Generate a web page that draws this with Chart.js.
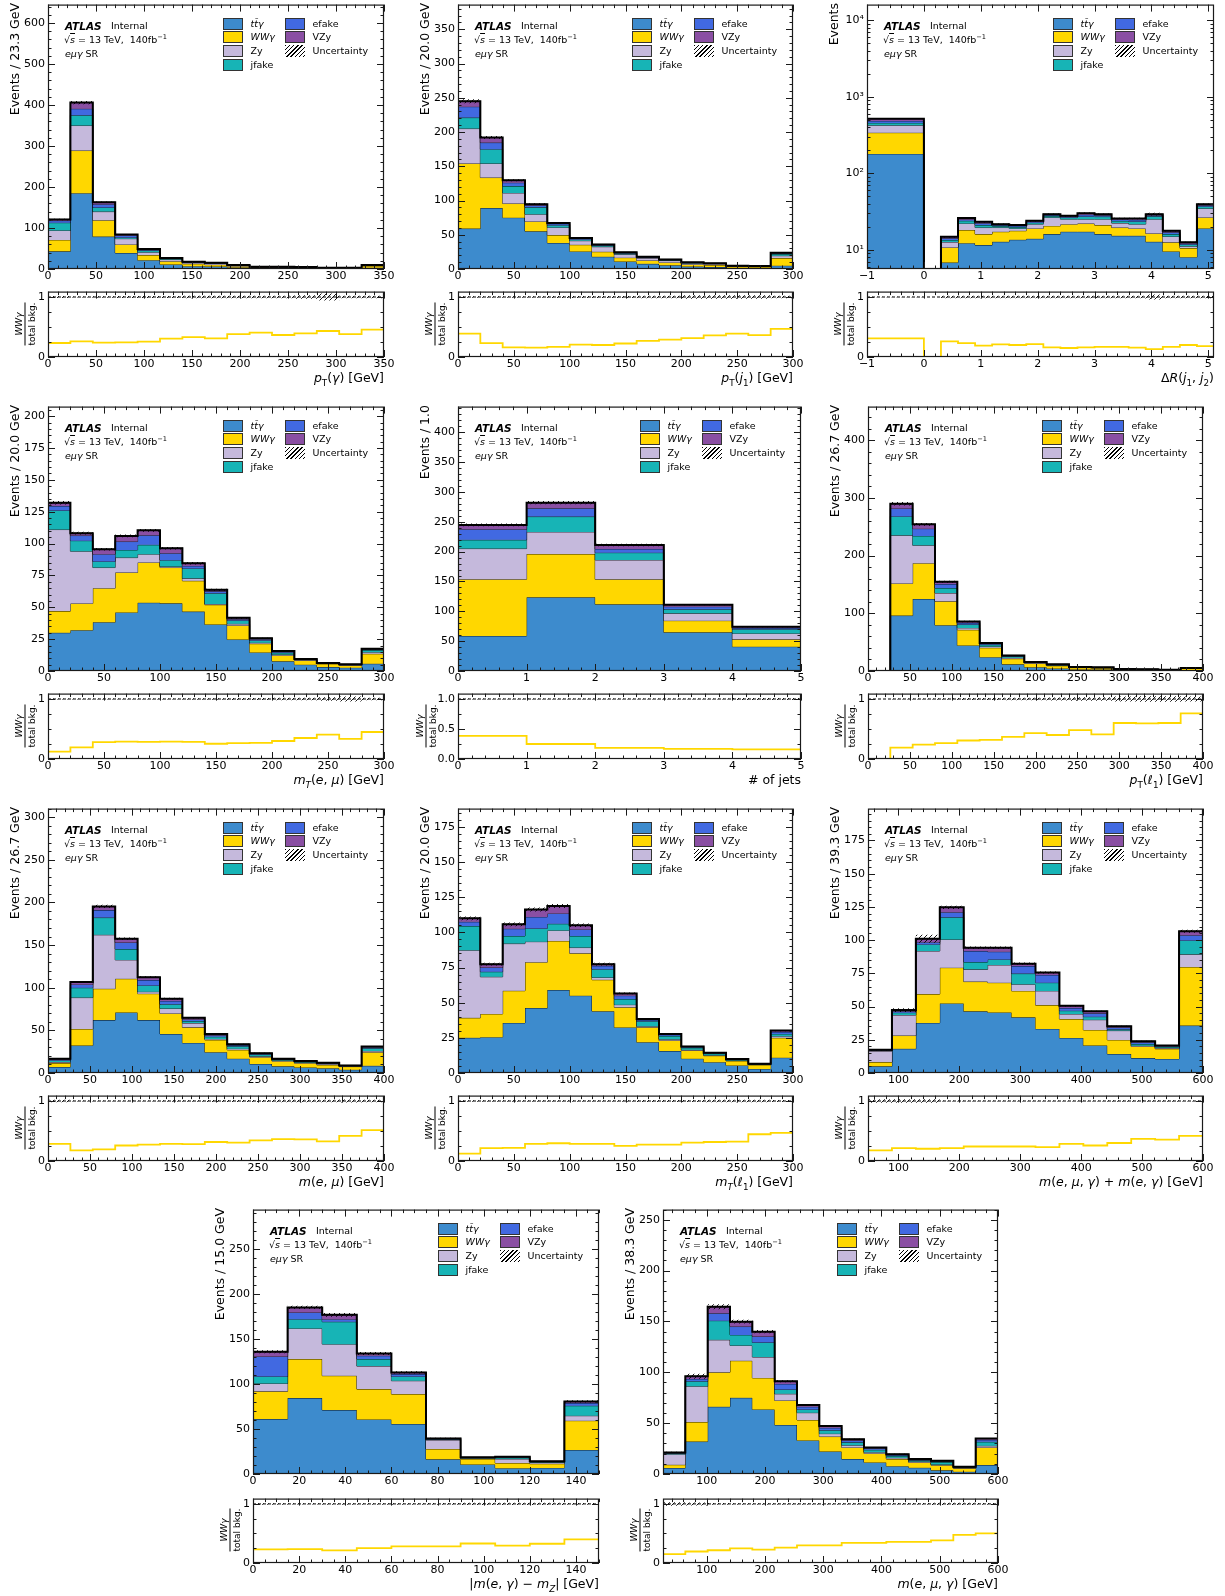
<!DOCTYPE html>
<html>
<head>
<meta charset="utf-8">
<title>WWγ eμγ SR distributions</title>
<script src="https://cdn.jsdelivr.net/npm/chart.js@4.4.1/dist/chart.umd.min.js"></script>
<style>
  html, body { margin: 0; padding: 0; background: #fff; }
  body { position: relative; width: 1225px; height: 1596px; overflow: hidden;
         font-family: "DejaVu Sans", "Liberation Sans", sans-serif; color: #000; }
  canvas.plot { position: absolute; }
  .lbl { position: absolute; white-space: nowrap; font-size: 9.5px; line-height: 14px; }
  .atlas { font-weight: bold; font-style: italic; font-size: 10.5px; }
  .ytitle { position: absolute; white-space: nowrap; font-size: 12.5px; line-height: 14px;
            writing-mode: vertical-rl; transform: rotate(180deg); }
  .xtitle { position: absolute; white-space: nowrap; font-size: 12.5px; line-height: 16px; text-align: right; }
  .rtitle { position: absolute; display: inline-block; font-size: 9px; line-height: 10px; text-align: center;
            transform: translate(-50%, -50%) rotate(-90deg); white-space: nowrap; }
  .rtitle .num { border-bottom: 1px solid #000; padding-bottom: 1px; }
  .rtitle .den { padding-top: 1px; }
  .sw { position: absolute; width: 20px; height: 12px; box-sizing: border-box; border: 1px solid #333; }
  .sw.hatch { border: none; background: repeating-linear-gradient(135deg, #000 0 0.9px, #fff 0.9px 3px); }
  sub, sup { font-size: 70%; line-height: 0; }
  .ov { text-decoration: overline; font-style: italic; }
</style>
</head>
<body>
<script>
// ---------------- bin edges ----------------
const edgesPtGamma = [0, 23.33, 46.67, 70, 93.33, 116.67, 140, 163.33, 186.67, 210, 233.33, 256.67, 280, 303.33, 326.67, 350];
const edgesPtJ1 = [0, 20, 40, 60, 80, 100, 120, 140, 160, 180, 200, 220, 240, 260, 280, 300];
const edgesDR = [-1, 0, 0.3, 0.6, 0.9, 1.2, 1.5, 1.8, 2.1, 2.4, 2.7, 3.0, 3.3, 3.6, 3.9, 4.2, 4.5, 4.8, 5.1];
const edgesMtEmu = [0, 20, 40, 60, 80, 100, 120, 140, 160, 180, 200, 220, 240, 260, 280, 300];
const edgesNJets = [0, 1, 2, 3, 4, 5];
const edgesPtL1 = [0, 26.67, 53.33, 80, 106.67, 133.33, 160, 186.67, 213.33, 240, 266.67, 293.33, 320, 346.67, 373.33, 400];
const edgesMEmu = [0, 26.67, 53.33, 80, 106.67, 133.33, 160, 186.67, 213.33, 240, 266.67, 293.33, 320, 346.67, 373.33, 400];
const edgesMtL1 = [0, 20, 40, 60, 80, 100, 120, 140, 160, 180, 200, 220, 240, 260, 280, 300];
const edgesMSum = [50, 89.29, 128.57, 167.86, 207.14, 246.43, 285.71, 325, 364.29, 403.57, 442.86, 482.14, 521.43, 560.71, 600];
const edgesMEgZ = [0, 15, 30, 45, 60, 75, 90, 105, 120, 135, 150];
const edgesMEmuG = [25, 63.33, 101.67, 140, 178.33, 216.67, 255, 293.33, 331.67, 370, 408.33, 446.67, 485, 523.33, 561.67, 600];

// ---------------- pT(gamma) ----------------
const ptGammaTtg   = [43, 185, 79, 39, 21.5, 11, 7, 6, 3.5, 2, 2, 1.7, 1.1, 1.2, 3];
const ptGammaWwg   = [28, 104, 40, 21, 12.5, 8, 5.7, 4.6, 3.5, 2.1, 1.9, 1.8, 1.35, 1.2, 4.4];
const ptGammaZy    = [23, 61, 21, 14, 7, 4, 2.5, 2.5, 1.5, 0.8, 0.9, 0.7, 0.4, 0.45, 1.3];
const ptGammaJfake = [19, 25, 10, 3, 4, 2, 1.5, 1.2, 0.7, 0.4, 0.4, 0.3, 0.2, 0.2, 0.6];
const ptGammaEfake = [5, 16, 8, 5, 2, 1, 0.6, 0.6, 0.3, 0.2, 0.2, 0.2, 0.1, 0.1, 0.3];
const ptGammaVzy   = [3, 15, 5, 2, 1.5, 0.6, 0.4, 0.4, 0.2, 0.1, 0.1, 0.1, 0.05, 0.05, 0.1];
const ptGammaRatio = [0.233, 0.26, 0.24, 0.245, 0.255, 0.305, 0.33, 0.31, 0.38, 0.405, 0.367, 0.395, 0.433, 0.38, 0.455];
const ptGammaUnc   = [0.015, 0.01, 0.012, 0.015, 0.015, 0.015, 0.02, 0.02, 0.02, 0.02, 0.02, 0.03, 0.06, 0.02, 0.02];

// ---------------- pT(j1) ----------------
const ptJ1Ttg   = [59, 89, 75, 55, 38, 25.7, 17.9, 11, 7.5, 5.5, 3.5, 2.8, 1.5, 1.5, 4.9];
const ptJ1Wwg   = [95, 44.5, 20.6, 14.4, 11.5, 9.7, 7.3, 5.6, 4.9, 4.1, 3.1, 3, 1.9, 1.6, 11];
const ptJ1Zy    = [51, 20.5, 15.4, 10.6, 11.2, 5.9, 7.3, 4.8, 3.5, 2.7, 1.8, 1.6, 0.9, 0.8, 3.5];
const ptJ1Jfake = [16, 21, 10, 10, 3.3, 1.9, 1.5, 1.5, 1, 0.9, 0.7, 0.5, 0.3, 0.3, 2.4];
const ptJ1Efake = [16, 9.5, 5, 2.7, 2, 1.5, 1, 1, 0.6, 0.5, 0.4, 0.3, 0.2, 0.1, 1];
const ptJ1Vzy   = [8, 7.5, 3.6, 2, 1, 0.4, 0.9, 0.5, 0.5, 0.3, 0.2, 0.1, 0.1, 0.1, 1];
const ptJ1Ratio = [0.39, 0.23, 0.16, 0.155, 0.17, 0.205, 0.2, 0.225, 0.27, 0.29, 0.315, 0.36, 0.39, 0.365, 0.47];
const ptJ1Unc   = [0.012, 0.012, 0.012, 0.012, 0.015, 0.015, 0.015, 0.015, 0.02, 0.02, 0.03, 0.03, 0.03, 0.03, 0.02];

// ---------------- DeltaR(j1, j2) ----------------
const dRTtg   = [179, 0, 6.8, 12.2, 11.5, 12.7, 13.5, 13.9, 16, 17.2, 17.2, 16, 15.2, 15.2, 12.7, 9.5, 8.0, 19];
const dRWwg   = [160, 0, 3.9, 5.9, 4.5, 4.5, 4.2, 5.1, 4.5, 4.4, 4.8, 5, 4.3, 3.8, 3.6, 3, 2.5, 7.4];
const dRZy    = [84, 0, 1.9, 4, 3.5, 2.3, 1.3, 2.6, 5.9, 3.5, 3.1, 4.1, 2.8, 2.6, 8.8, 2.4, 0.6, 8.2];
const dRJfake = [32, 0, 0.8, 1.8, 1.5, 0.9, 0.8, 1, 1.2, 1.2, 2.1, 2, 1.5, 1.8, 2.2, 1.1, 0.6, 2.2];
const dREfake = [28, 0, 0.7, 1, 1.2, 0.6, 0.7, 0.7, 0.8, 0.8, 1.5, 1.1, 1, 1.2, 1, 0.9, 0.4, 1.3];
const dRVzy   = [33, 0, 0.7, 1, 1, 0.6, 0.5, 0.6, 0.8, 0.7, 1.3, 1, 0.8, 1, 0.9, 0.8, 0.4, 1.3];
const dRRatio = [0.31, 0, 0.26, 0.23, 0.19, 0.21, 0.2, 0.215, 0.16, 0.15, 0.16, 0.17, 0.17, 0.156, 0.13, 0.17, 0.2, 0.18];
const dRUnc   = [0.005, 0, 0.02, 0.02, 0.02, 0.02, 0.02, 0.02, 0.02, 0.02, 0.02, 0.02, 0.02, 0.02, 0.04, 0.02, 0.02, 0.02];

// ---------------- mT(e, mu) ----------------
const mtEmuTtg   = [30, 32, 38.3, 46, 53.6, 53.1, 46.6, 36.5, 24.7, 14.6, 7.6, 5, 3.1, 2.6, 5.7];
const mtEmuWwg   = [17, 21, 26.7, 31.3, 31.6, 28.1, 24.2, 15.5, 11, 6.8, 4.6, 3.3, 2.5, 1.75, 7.8];
const mtEmuZy    = [64, 41, 16.2, 11.7, 6.5, 0.8, 1.9, 0.6, 1.3, 0.8, 0.8, 0.4, 0.3, 0.4, 1.3];
const mtEmuJfake = [15, 8.3, 4.8, 6, 7.3, 5, 7.8, 8.4, 2.6, 1.8, 1.3, 0.4, 0.2, 0.25, 1.6];
const mtEmuEfake = [3.5, 4, 5.7, 6.6, 7.5, 5.4, 2, 1.5, 1, 1, 0.7, 0.2, 0.1, 0.1, 0.6];
const mtEmuVzy   = [2.5, 1.9, 3.9, 4.4, 3.9, 4, 2.1, 1.3, 1.1, 0.8, 0.6, 0.1, 0.05, 0.1, 0.4];
const mtEmuRatio = [0.124, 0.195, 0.28, 0.29, 0.286, 0.29, 0.286, 0.254, 0.265, 0.27, 0.3, 0.35, 0.405, 0.335, 0.45];
const mtEmuUnc   = [0.01, 0.01, 0.01, 0.01, 0.01, 0.01, 0.012, 0.012, 0.015, 0.015, 0.02, 0.02, 0.03, 0.04, 0.02];

// ---------------- number of jets ----------------
const nJetsTtg   = [58.7, 123.5, 111.7, 64.8, 40.8];
const nJetsWwg   = [95, 72.5, 41.9, 19.6, 12.2];
const nJetsZy    = [51.4, 37, 32.4, 12.2, 10];
const nJetsJfake = [14.6, 25.7, 12.3, 6.8, 7];
const nJetsEfake = [17.8, 13.9, 6.2, 4.4, 2];
const nJetsVzy   = [7.3, 9.4, 6.5, 3.4, 2.3];
const nJetsRatio = [0.385, 0.25, 0.187, 0.17, 0.16];
const nJetsUnc   = [0.01, 0.01, 0.01, 0.01, 0.015];

// ---------------- pT(l1) ----------------
const ptL1Ttg   = [0, 96, 124.7, 79.3, 44.3, 24, 11.5, 6.6, 4.5, 2.5, 2.7, 1.1, 0.9, 0.7, 1];
const ptL1Wwg   = [0, 55.7, 62.1, 41.4, 27, 16.2, 9.8, 6.6, 4.6, 3.3, 2.6, 2.1, 1.7, 1.4, 3.95];
const ptL1Zy    = [0, 83.3, 31, 14.3, 3.4, 2.3, 1.5, 0.8, 0.8, 0.4, 0.4, 0.1, 0.15, 0.1, 0.1];
const ptL1Jfake = [0, 32.8, 16.2, 8.7, 5.8, 3, 2.3, 0.8, 0.8, 0.4, 0.3, 0.1, 0.1, 0.06, 0.1];
const ptL1Efake = [0, 13.8, 12.6, 6.9, 2.8, 1.5, 1.2, 0.4, 0.5, 0.2, 0.2, 0.05, 0.03, 0.02, 0.03];
const ptL1Vzy   = [0, 8.1, 7.4, 4, 2.3, 1.3, 0.7, 0.3, 0.3, 0.1, 0.1, 0.05, 0.02, 0.02, 0.02];
const ptL1Ratio = [0, 0.19, 0.24, 0.264, 0.308, 0.32, 0.368, 0.43, 0.4, 0.48, 0.41, 0.6, 0.593, 0.6, 0.76];
const ptL1Unc   = [0, 0.01, 0.01, 0.012, 0.015, 0.015, 0.02, 0.02, 0.025, 0.03, 0.03, 0.04, 0.045, 0.045, 0.04];

// ---------------- m(e, mu) ----------------
const mEmuTtg   = [7, 32.2, 62, 71, 62, 45.7, 35.3, 24.4, 16.8, 10.6, 7.8, 6.5, 5.6, 3.8, 8.4];
const mEmuWwg   = [4.6, 19.4, 36.8, 39.5, 31, 24.1, 18.2, 14.4, 10.3, 8, 6.1, 5, 3.9, 3.7, 16];
const mEmuZy    = [1.2, 36.8, 63.2, 22.1, 2.3, 5.8, 5, 1.2, 1.4, 1, 0.8, 0.8, 1, 0.6, 1.5];
const mEmuJfake = [2, 11.6, 20.2, 12.7, 7.4, 5, 2.4, 2.5, 2.8, 2, 1.1, 0.9, 0.8, 0.4, 3];
const mEmuEfake = [1, 3.9, 8.8, 7.7, 6.3, 3.9, 1.9, 1.7, 1.4, 1, 0.5, 0.5, 0.4, 0.2, 1.3];
const mEmuVzy   = [0.9, 2.7, 4.3, 4.4, 3.4, 2.7, 1.9, 1.5, 1, 0.7, 0.4, 0.3, 0.3, 0.2, 0.8];
const mEmuRatio = [0.285, 0.177, 0.194, 0.258, 0.274, 0.285, 0.28, 0.317, 0.306, 0.344, 0.366, 0.36, 0.328, 0.42, 0.516];
const mEmuUnc   = [0.02, 0.01, 0.01, 0.01, 0.01, 0.012, 0.012, 0.015, 0.015, 0.015, 0.02, 0.02, 0.02, 0.025, 0.02];

// ---------------- mT(l1) ----------------
const mtL1Ttg   = [25, 25.5, 35.6, 46.2, 59, 55, 43.9, 32.4, 21.9, 15.6, 10.2, 7.7, 5.4, 2.9, 10.9];
const mtL1Wwg   = [14.2, 16.5, 22.9, 32.6, 34.9, 30.1, 22.4, 14.3, 10.6, 7.5, 5.8, 4.6, 3.2, 2.9, 14.1];
const mtL1Zy    = [48.1, 26.4, 33.5, 14.6, 7.5, 4.1, 1.6, 1.9, 0.8, 0.9, 0.5, 0.4, 0.3, 0.2, 1.2];
const mtL1Jfake = [17.2, 3.6, 5.4, 9.4, 4.7, 8.2, 5.9, 4, 3.5, 2.3, 1.4, 1, 0.6, 0.4, 1.6];
const mtL1Efake = [3, 3, 5.2, 8.2, 7.4, 4.7, 2.4, 2.4, 0.9, 0.9, 0.6, 0.4, 0.2, 0.1, 1.4];
const mtL1Vzy   = [2.5, 2.4, 3.1, 5.3, 5.2, 2.9, 1.2, 1.6, 0.7, 0.6, 0.4, 0.3, 0.2, 0.1, 1];
const mtL1Ratio = [0.124, 0.215, 0.22, 0.285, 0.296, 0.285, 0.285, 0.253, 0.274, 0.274, 0.306, 0.317, 0.322, 0.446, 0.468];
const mtL1Unc   = [0.012, 0.012, 0.012, 0.012, 0.012, 0.012, 0.012, 0.012, 0.015, 0.015, 0.015, 0.02, 0.02, 0.02, 0.015];

// ---------------- m(e,mu,gamma) + m(e,gamma) ----------------
const mSumTtg   = [5, 18.2, 37.7, 52.4, 46.4, 45.6, 41.9, 33.2, 26.4, 20.7, 14.3, 11.2, 10.6, 35.7];
const mSumWwg   = [3.2, 10, 21.7, 26.9, 22.4, 22.4, 19.9, 17.9, 14.2, 11.7, 10.6, 8.8, 7.6, 44.1];
const mSumZy    = [8.3, 15.4, 32.4, 21.2, 9.2, 13.3, 5, 10.7, 3.8, 7.7, 7, 0.6, 0.6, 9.5];
const mSumJfake = [0.5, 1.8, 5, 16.7, 5.5, 4.2, 8, 6.2, 2.5, 2.3, 1, 1.2, 0.8, 10.5];
const mSumEfake = [0.3, 1, 1.7, 3.8, 8.3, 5.8, 5.7, 5.8, 2, 2.5, 1.3, 1.3, 0.6, 3.9];
const mSumVzy   = [0.2, 1, 2.5, 3.7, 2.5, 3, 1.8, 1.8, 1.7, 1.5, 1, 0.8, 0.5, 3];
const mSumRatio = [0.177, 0.215, 0.204, 0.215, 0.242, 0.242, 0.242, 0.23, 0.285, 0.258, 0.3, 0.37, 0.355, 0.42];
const mSumUnc   = [0.03, 0.03, 0.03, 0.01, 0.01, 0.01, 0.01, 0.01, 0.01, 0.01, 0.012, 0.012, 0.012, 0.01];

// ---------------- |m(e,gamma) - mZ| ----------------
const mEgZTtg   = [61.1, 84.4, 71.1, 60.7, 55.6, 16.3, 10.6, 6.5, 6.8, 26.7];
const mEgZWwg   = [30.8, 43.4, 38.2, 33.7, 33.3, 11.5, 6.1, 5.7, 4.6, 32.6];
const mEgZZy    = [8.8, 34.1, 35.1, 25.6, 14.8, 10, 0.8, 4.5, 1.3, 5.5];
const mEgZJfake = [7.8, 10.3, 24.9, 7.8, 4.8, 0.8, 0.5, 1.3, 0.7, 11.1];
const mEgZEfake = [22.2, 7.4, 2.9, 3.7, 2.6, 0.5, 0.3, 0.7, 0.4, 3];
const mEgZVzy   = [5.2, 5.6, 4.8, 2.5, 1.9, 0.5, 0.2, 0.6, 0.3, 1.8];
const mEgZRatio = [0.23, 0.235, 0.214, 0.251, 0.283, 0.283, 0.33, 0.294, 0.326, 0.4];
const mEgZUnc   = [0.012, 0.01, 0.012, 0.012, 0.012, 0.015, 0.02, 0.02, 0.02, 0.015];

// ---------------- m(e,mu,gamma) ----------------
const mEmuGTtg   = [5.9, 31.9, 66.1, 74.9, 63.5, 48.2, 33, 22.1, 14.7, 11.4, 7.7, 6.15, 3.6, 2.2, 8.8];
const mEmuGWwg   = [3.2, 19.2, 33.9, 36.5, 31, 24.1, 20.1, 14.7, 11.4, 8.8, 7, 5.25, 5, 3.4, 17.3];
const mEmuGZy    = [10.4, 35.2, 31.9, 15, 20.5, 6.5, 7.2, 2.9, 2.2, 1.3, 1.2, 0.8, 0.8, 0.5, 1.6];
const mEmuGJfake = [0.8, 4.9, 18.9, 10.4, 14.3, 4.3, 3.2, 3.3, 2.8, 2.3, 1.8, 1.2, 2.3, 0.6, 3.9];
const mEmuGEfake = [0.5, 2.3, 7.2, 8.2, 5.9, 5.5, 2.6, 2.4, 1.8, 1.4, 1, 0.7, 0.8, 0.3, 2];
const mEmuGVzy   = [0.4, 2.6, 6.5, 4.8, 4.8, 2.6, 1.7, 1.8, 1.3, 0.9, 0.8, 0.6, 0.5, 0.2, 1.3];
const mEmuGRatio = [0.151, 0.195, 0.216, 0.249, 0.227, 0.26, 0.297, 0.297, 0.34, 0.34, 0.357, 0.357, 0.384, 0.476, 0.503];
const mEmuGUnc   = [0.03, 0.025, 0.015, 0.012, 0.012, 0.012, 0.012, 0.012, 0.012, 0.015, 0.015, 0.015, 0.02, 0.02, 0.015];

// ---------------- tick labels ----------------
const ptGammaXTicks = [0, 50, 100, 150, 200, 250, 300, 350];
const ptGammaYTicks = [0, 100, 200, 300, 400, 500, 600];
const ptJ1XTicks = [0, 50, 100, 150, 200, 250, 300];
const ptJ1YTicks = [0, 50, 100, 150, 200, 250, 300, 350];
const dRXTicks = [-1, 0, 1, 2, 3, 4, 5];
const dRYTicks = [10, 100, 1000, 10000];
const mtEmuXTicks = [0, 50, 100, 150, 200, 250, 300];
const mtEmuYTicks = [0, 25, 50, 75, 100, 125, 150, 175, 200];
const nJetsXTicks = [0, 1, 2, 3, 4, 5];
const nJetsYTicks = [0, 50, 100, 150, 200, 250, 300, 350, 400];
const ptL1XTicks = [0, 50, 100, 150, 200, 250, 300, 350, 400];
const ptL1YTicks = [0, 100, 200, 300, 400];
const mEmuXTicks = [0, 50, 100, 150, 200, 250, 300, 350, 400];
const mEmuYTicks = [0, 50, 100, 150, 200, 250, 300];
const mtL1XTicks = [0, 50, 100, 150, 200, 250, 300];
const mtL1YTicks = [0, 25, 50, 75, 100, 125, 150, 175];
const mSumXTicks = [100, 200, 300, 400, 500, 600];
const mSumYTicks = [0, 25, 50, 75, 100, 125, 150, 175];
const mEgZXTicks = [0, 20, 40, 60, 80, 100, 120, 140];
const mEgZYTicks = [0, 50, 100, 150, 200, 250];
const mEmuGXTicks = [100, 200, 300, 400, 500, 600];
const mEmuGYTicks = [0, 50, 100, 150, 200, 250];
const ratioYTicks = [0, 1];
const ratioYTicksHalf = [0, 0.5, 1];

// ---------------- styling ----------------
const FONT = '"DejaVu Sans", "Liberation Sans", sans-serif';
const SAMPLE_COLORS = ['#3d8bcd', '#ffd700', '#c5b9dc', '#17b4b6', '#4169e1', '#8a4fa3'];
const WWG_LINE = '#ffd700';

// frame boxes in page pixels: [left, right, top, bottom, ratioTop, ratioBottom]
const frameBoxes = [
  [48, 384, 3, 269, 290, 357],
  [458, 793, 3, 269, 290, 357],
  [867, 1214, 3, 269, 290, 357],
  [48, 384, 405, 671, 692, 759],
  [458, 801, 405, 671, 692, 759],
  [868, 1203, 405, 671, 692, 759],
  [48, 384, 807, 1073, 1094, 1161],
  [458, 793, 807, 1073, 1094, 1161],
  [868, 1203, 807, 1073, 1094, 1161],
  [253, 599, 1208, 1474, 1497, 1563],
  [663, 998, 1208, 1474, 1497, 1563]
];

const panels = [
  { edges: edgesPtGamma, comps: [ptGammaTtg, ptGammaWwg, ptGammaZy, ptGammaJfake, ptGammaEfake, ptGammaVzy],
    ratio: ptGammaRatio, unc: ptGammaUnc, xTicks: ptGammaXTicks, yTicks: ptGammaYTicks,
    xMin: 0, xMax: 350, xMinor: 10, yMax: 645, yMinor: 20,
    yTitle: 'Events / 23.3 GeV', xTitle: '<i>p</i><sub>T</sub>(<i>γ</i>) [GeV]' },
  { edges: edgesPtJ1, comps: [ptJ1Ttg, ptJ1Wwg, ptJ1Zy, ptJ1Jfake, ptJ1Efake, ptJ1Vzy],
    ratio: ptJ1Ratio, unc: ptJ1Unc, xTicks: ptJ1XTicks, yTicks: ptJ1YTicks,
    xMin: 0, xMax: 300, xMinor: 10, yMax: 386, yMinor: 10,
    yTitle: 'Events / 20.0 GeV', xTitle: '<i>p</i><sub>T</sub>(<i>j</i><sub>1</sub>) [GeV]' },
  { edges: edgesDR, comps: [dRTtg, dRWwg, dRZy, dRJfake, dREfake, dRVzy],
    ratio: dRRatio, unc: dRUnc, xTicks: dRXTicks, yTicks: dRYTicks,
    xMin: -1, xMax: 5.1, xMinor: 0.2, yMin: 5.6, yMax: 16000, log: true,
    yTitle: 'Events', xTitle: 'Δ<i>R</i>(<i>j</i><sub>1</sub>, <i>j</i><sub>2</sub>)' },
  { edges: edgesMtEmu, comps: [mtEmuTtg, mtEmuWwg, mtEmuZy, mtEmuJfake, mtEmuEfake, mtEmuVzy],
    ratio: mtEmuRatio, unc: mtEmuUnc, xTicks: mtEmuXTicks, yTicks: mtEmuYTicks,
    xMin: 0, xMax: 300, xMinor: 10, yMax: 207.5, yMinor: 5,
    yTitle: 'Events / 20.0 GeV', xTitle: '<i>m<sub>T</sub></i>(<i>e</i>, <i>μ</i>) [GeV]' },
  { edges: edgesNJets, comps: [nJetsTtg, nJetsWwg, nJetsZy, nJetsJfake, nJetsEfake, nJetsVzy],
    ratio: nJetsRatio, unc: nJetsUnc, xTicks: nJetsXTicks, yTicks: nJetsYTicks,
    xMin: 0, xMax: 5, xMinor: 0.2, yMax: 443, yMinor: 10, ratioHalf: true,
    yTitle: 'Events / 1.0', xTitle: '# of jets' },
  { edges: edgesPtL1, comps: [ptL1Ttg, ptL1Wwg, ptL1Zy, ptL1Jfake, ptL1Efake, ptL1Vzy],
    ratio: ptL1Ratio, unc: ptL1Unc, xTicks: ptL1XTicks, yTicks: ptL1YTicks,
    xMin: 0, xMax: 400, xMinor: 10, yMax: 458, yMinor: 20,
    yTitle: 'Events / 26.7 GeV', xTitle: '<i>p</i><sub>T</sub>(<i>ℓ</i><sub>1</sub>) [GeV]' },
  { edges: edgesMEmu, comps: [mEmuTtg, mEmuWwg, mEmuZy, mEmuJfake, mEmuEfake, mEmuVzy],
    ratio: mEmuRatio, unc: mEmuUnc, xTicks: mEmuXTicks, yTicks: mEmuYTicks,
    xMin: 0, xMax: 400, xMinor: 10, yMax: 310, yMinor: 10,
    yTitle: 'Events / 26.7 GeV', xTitle: '<i>m</i>(<i>e</i>, <i>μ</i>) [GeV]' },
  { edges: edgesMtL1, comps: [mtL1Ttg, mtL1Wwg, mtL1Zy, mtL1Jfake, mtL1Efake, mtL1Vzy],
    ratio: mtL1Ratio, unc: mtL1Unc, xTicks: mtL1XTicks, yTicks: mtL1YTicks,
    xMin: 0, xMax: 300, xMinor: 10, yMax: 188, yMinor: 5,
    yTitle: 'Events / 20.0 GeV', xTitle: '<i>m<sub>T</sub></i>(<i>ℓ</i><sub>1</sub>) [GeV]' },
  { edges: edgesMSum, comps: [mSumTtg, mSumWwg, mSumZy, mSumJfake, mSumEfake, mSumVzy],
    ratio: mSumRatio, unc: mSumUnc, xTicks: mSumXTicks, yTicks: mSumYTicks,
    xMin: 50, xMax: 600, xMinor: 20, yMax: 199, yMinor: 5,
    yTitle: 'Events / 39.3 GeV', xTitle: '<i>m</i>(<i>e</i>, <i>μ</i>, <i>γ</i>) + <i>m</i>(<i>e</i>, <i>γ</i>) [GeV]' },
  { edges: edgesMEgZ, comps: [mEgZTtg, mEgZWwg, mEgZZy, mEgZJfake, mEgZEfake, mEgZVzy],
    ratio: mEgZRatio, unc: mEgZUnc, xTicks: mEgZXTicks, yTicks: mEgZYTicks,
    xMin: 0, xMax: 150, xMinor: 5, yMax: 294, yMinor: 10,
    yTitle: 'Events / 15.0 GeV', xTitle: '|<i>m</i>(<i>e</i>, <i>γ</i>) − <i>m<sub>Z</sub></i>| [GeV]' },
  { edges: edgesMEmuG, comps: [mEmuGTtg, mEmuGWwg, mEmuGZy, mEmuGJfake, mEmuGEfake, mEmuGVzy],
    ratio: mEmuGRatio, unc: mEmuGUnc, xTicks: mEmuGXTicks, yTicks: mEmuGYTicks,
    xMin: 25, xMax: 600, xMinor: 20, yMax: 260, yMinor: 10,
    yTitle: 'Events / 38.3 GeV', xTitle: '<i>m</i>(<i>e</i>, <i>μ</i>, <i>γ</i>) [GeV]' }
];

const legendEntries = [
  { col: 0, row: 0, color: SAMPLE_COLORS[0], text: '<i>tt̄γ</i>' },
  { col: 0, row: 1, color: SAMPLE_COLORS[1], text: '<i>WWγ</i>' },
  { col: 0, row: 2, color: SAMPLE_COLORS[2], text: 'Zy' },
  { col: 0, row: 3, color: SAMPLE_COLORS[3], text: 'jfake' },
  { col: 1, row: 0, color: SAMPLE_COLORS[4], text: 'efake' },
  { col: 1, row: 1, color: SAMPLE_COLORS[5], text: 'VZy' },
  { col: 1, row: 2, hatch: true, text: 'Uncertainty' }
];

// ---------------- helpers ----------------
const AX_W = 50, PAD_T = 8, PAD_R = 16, AX_H = 24;

function minorValues(min, max, step, majors, log) {
  const out = [];
  if (log) {
    for (let e = Math.floor(Math.log10(min)); e <= Math.ceil(Math.log10(max)); e++) {
      for (let k = 2; k <= 9; k++) {
        const v = k * Math.pow(10, e);
        if (v >= min && v <= max) out.push(v);
      }
    }
    return out;
  }
  for (let k = Math.ceil(min / step - 1e-9); k * step <= max + 1e-9; k++) {
    const v = +(k * step).toFixed(6);
    if (!majors.some(m => Math.abs(m - v) < 1e-9)) out.push(v);
  }
  return out;
}

// frame and inward ticks on all four sides
const frameTicks = {
  id: 'frameTicks',
  afterDatasetsDraw(chart, args, o) {
    const { ctx, chartArea: a } = chart;
    const x = chart.scales.x, y = chart.scales.y;
    ctx.save();
    ctx.strokeStyle = '#1a1a1a';
    ctx.lineWidth = 1;
    ctx.beginPath();
    const tx = (v, len) => {
      const p = Math.round(x.getPixelForValue(v)) + 0.5;
      ctx.moveTo(p, a.bottom); ctx.lineTo(p, a.bottom - len);
      ctx.moveTo(p, a.top); ctx.lineTo(p, a.top + len);
    };
    const ty = (v, len) => {
      const p = Math.round(y.getPixelForValue(v)) + 0.5;
      ctx.moveTo(a.left, p); ctx.lineTo(a.left + len, p);
      ctx.moveTo(a.right, p); ctx.lineTo(a.right - len, p);
    };
    o.xMajor.forEach(v => tx(v, 7));
    o.xMinor.forEach(v => tx(v, 3.5));
    o.yMajor.forEach(v => ty(v, 7));
    o.yMinor.forEach(v => ty(v, 3.5));
    ctx.stroke();
    ctx.lineWidth = 1.2;
    ctx.strokeRect(a.left + 0.5, a.top + 0.5, a.width - 1, a.height - 1);
    ctx.restore();
  }
};

function makeHatch(ctx) {
  const t = document.createElement('canvas');
  t.width = 5; t.height = 5;
  const c = t.getContext('2d');
  c.strokeStyle = '#000';
  c.lineWidth = 0.9;
  c.beginPath();
  c.moveTo(0, 5); c.lineTo(5, 0);
  c.moveTo(-1, 1); c.lineTo(1, -1);
  c.moveTo(4, 6); c.lineTo(6, 4);
  c.stroke();
  return ctx.createPattern(t, 'repeat');
}

// histogram steps; `floor` keeps empty bins drawable on a log axis
function stepPoints(edges, vals, floor) {
  const n = edges.length - 1;
  const f = floor ? (v => (v > 0 ? v : floor)) : (v => v);
  return edges.map((e, i) => ({ x: e, y: f(vals[Math.min(i, n - 1)]) }));
}
function closedStep(edges, vals, floor) {
  const z = floor || 0;
  return [{ x: edges[0], y: z }, ...stepPoints(edges, vals, floor), { x: edges[edges.length - 1], y: z }];
}

function makeCanvas(left, top, w, h) {
  const cv = document.createElement('canvas');
  cv.className = 'plot';
  cv.width = w; cv.height = h;
  cv.style.left = left + 'px'; cv.style.top = top + 'px';
  cv.style.width = w + 'px'; cv.style.height = h + 'px';
  document.body.appendChild(cv);
  return cv;
}

function fmtTick(v) {
  return v < 0 ? '\u2212' + Math.abs(v) : String(v);
}
const SUP = { '1': '¹', '2': '²', '3': '³', '4': '⁴' };
function fmtLog(v) {
  const e = Math.round(Math.log10(v));
  return '10' + SUP[String(e)];
}

function axis(pos, opts) {
  return {
    type: opts.type || 'linear',
    position: pos,
    min: opts.min, max: opts.max,
    grid: { display: false, drawTicks: false },
    border: { display: false },
    ticks: {
      font: { family: FONT, size: 11 }, color: '#000',
      padding: pos === 'left' ? 3 : 1,
      autoSkip: false, maxRotation: 0, minRotation: 0,
      callback: opts.fmt
    },
    afterBuildTicks: s => { s.ticks = opts.ticks.map(v => ({ value: v })); },
    afterFit: s => { if (pos === 'left') s.width = AX_W; else s.height = AX_H; }
  };
}

function baseOptions(xAxis, yAxis, ft) {
  return {
    responsive: false, animation: false, events: [], devicePixelRatio: 1,
    layout: { padding: { left: 0, top: PAD_T, right: PAD_R, bottom: 0 } },
    elements: { point: { radius: 0 }, line: { tension: 0 } },
    plugins: { legend: { display: false }, tooltip: { enabled: false }, frameTicks: ft },
    scales: { x: xAxis, y: yAxis }
  };
}

function addDiv(cls, html, style) {
  const d = document.createElement('div');
  d.className = cls;
  d.innerHTML = html;
  Object.assign(d.style, style);
  document.body.appendChild(d);
  return d;
}

// ---------------- build every panel ----------------
panels.forEach((p, idx) => {
  const [L, R, T, B, RT, RB] = frameBoxes[idx];
  const W = (R - L) + AX_W + PAD_R;
  const xMinorVals = minorValues(p.xMin, p.xMax, p.xMinor, p.xTicks, false);
  const floor = p.log ? p.yMin / 10 : 0;

  // ----- stacked histogram -----
  const cvMain = makeCanvas(L - AX_W, T - PAD_T, W, (B - T) + PAD_T + AX_H);
  const hatchMain = makeHatch(cvMain.getContext('2d'));
  const n = p.edges.length - 1;
  const cum = [];
  let run = new Array(n).fill(0);
  p.comps.forEach(c => { run = run.map((v, i) => v + c[i]); cum.push(run.slice()); });
  const total = cum[cum.length - 1];
  const ds = cum.map((vals, k) => ({
    data: stepPoints(p.edges, vals, floor),
    backgroundColor: SAMPLE_COLORS[k],
    borderColor: 'rgba(0,0,0,0.8)', borderWidth: 1,
    fill: k === 0 ? 'start' : '-1', stepped: true, order: 20 - k
  }));
  ds.push({ data: stepPoints(p.edges, total.map((t, i) => t * (1 - p.unc[i])), floor),
            borderWidth: 0, borderColor: 'rgba(0,0,0,0)', fill: false, stepped: true, order: 10 });
  ds.push({ data: stepPoints(p.edges, total.map((t, i) => t * (1 + p.unc[i])), floor),
            borderWidth: 0, borderColor: 'rgba(0,0,0,0)', backgroundColor: hatchMain,
            fill: '-1', stepped: true, order: 9 });
  ds.push({ data: closedStep(p.edges, total, floor), borderColor: '#000', borderWidth: 2,
            fill: false, stepped: true, order: 8 });

  const yMain = p.log
    ? axis('left', { type: 'logarithmic', min: p.yMin, max: p.yMax, ticks: p.yTicks, fmt: fmtLog })
    : axis('left', { min: 0, max: p.yMax, ticks: p.yTicks, fmt: fmtTick });
  const xMain = axis('bottom', { min: p.xMin, max: p.xMax, ticks: p.xTicks, fmt: fmtTick });
  new Chart(cvMain, {
    type: 'line',
    data: { datasets: ds },
    options: baseOptions(xMain, yMain, {
      xMajor: p.xTicks, xMinor: xMinorVals, yMajor: p.yTicks,
      yMinor: p.log ? minorValues(p.yMin, p.yMax, 0, [], true) : minorValues(0, p.yMax, p.yMinor, p.yTicks, false)
    }),
    plugins: [frameTicks]
  });

  // ----- WWgamma / total background -----
  const cvRatio = makeCanvas(L - AX_W, RT - PAD_T, W, (RB - RT) + PAD_T + AX_H);
  const hatchRatio = makeHatch(cvRatio.getContext('2d'));
  const rTicks = p.ratioHalf ? ratioYTicksHalf : ratioYTicks;
  const rds = [
    { data: stepPoints(p.edges, p.unc.map(u => 1 - u)), borderWidth: 0, borderColor: 'rgba(0,0,0,0)',
      fill: false, stepped: true, order: 4 },
    { data: stepPoints(p.edges, p.unc.map(u => 1 + u)), borderWidth: 0, borderColor: 'rgba(0,0,0,0)',
      backgroundColor: hatchRatio, fill: '-1', stepped: true, order: 3 },
    { data: [{ x: p.xMin, y: 1 }, { x: p.xMax, y: 1 }], borderColor: '#000', borderWidth: 1,
      borderDash: [3, 2], fill: false, order: 2 },
    { data: closedStep(p.edges, p.ratio), borderColor: WWG_LINE, borderWidth: 1.8,
      fill: false, stepped: true, order: 1 }
  ];
  new Chart(cvRatio, {
    type: 'line',
    data: { datasets: rds },
    options: baseOptions(
      axis('bottom', { min: p.xMin, max: p.xMax, ticks: p.xTicks, fmt: fmtTick }),
      axis('left', { min: 0, max: 1.09, ticks: rTicks,
                     fmt: v => p.ratioHalf ? v.toFixed(1) : String(v) }),
      { xMajor: p.xTicks, xMinor: xMinorVals, yMajor: rTicks,
        yMinor: p.ratioHalf ? [0.25, 0.75] : [0.25, 0.5, 0.75] }),
    plugins: [frameTicks]
  });

  // ----- axis titles -----
  addDiv('ytitle', p.yTitle, { left: (L - 40) + 'px', top: T + 'px' });
  addDiv('xtitle', p.xTitle, { right: (1225 - R) + 'px', top: (RB + 13) + 'px' });
  addDiv('rtitle', '<div class="num"><i>WWγ</i></div><div class="den">total bkg.</div>',
         { left: (L - (p.ratioHalf ? 32 : 23)) + 'px', top: ((RT + RB) / 2) + 'px' });

  // ----- ATLAS label -----
  addDiv('lbl atlas', 'ATLAS', { left: (L + 17) + 'px', top: (T + 16) + 'px' });
  addDiv('lbl', 'Internal', { left: (L + 63) + 'px', top: (T + 16) + 'px' });
  addDiv('lbl', '√<span class="ov">s</span> = 13 TeV,&nbsp; 140fb<sup>−1</sup>',
         { left: (L + 16) + 'px', top: (T + 30) + 'px' });
  addDiv('lbl', '<i>eμγ</i> SR', { left: (L + 17) + 'px', top: (T + 44) + 'px' });

  // ----- legend -----
  legendEntries.forEach(e => {
    const sx = R - (e.col === 0 ? 161 : 99);
    const sy = T + 14.6 + e.row * 13.7;
    const sw = addDiv(e.hatch ? 'sw hatch' : 'sw', '', { left: sx + 'px', top: sy + 'px' });
    if (!e.hatch) sw.style.background = e.color;
    addDiv('lbl', e.text, { left: (sx + 27.5) + 'px', top: (sy - 1) + 'px' });
  });
});
</script>
</body>
</html>
